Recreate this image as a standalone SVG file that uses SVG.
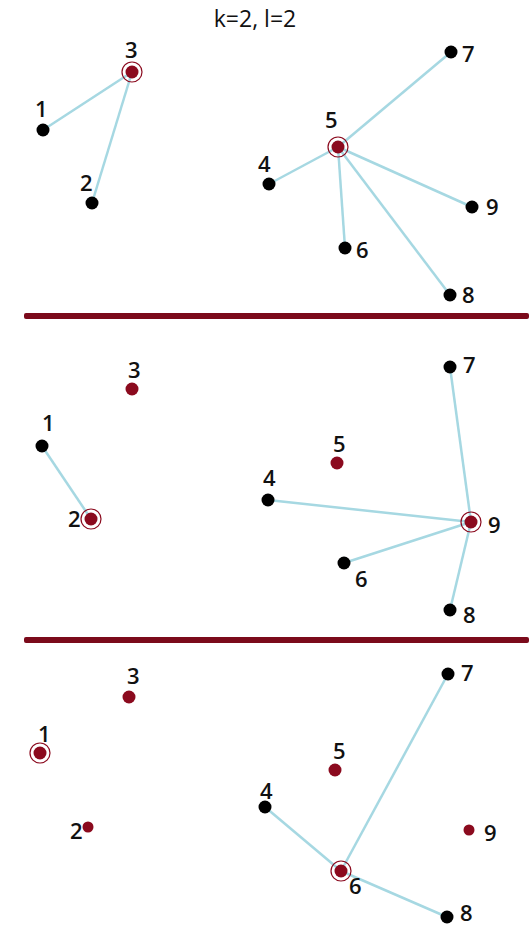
<svg xmlns="http://www.w3.org/2000/svg" width="529" height="928" viewBox="0 0 529 928">
<style>
text{font-family:"Open Sans","DejaVu Sans",sans-serif;font-size:22px;font-weight:600;fill:#111}
.t{font-size:23px;font-weight:normal;text-anchor:middle}
.e line{stroke:#a6d8e2;stroke-width:2.5}
.b{fill:#000}
.r{fill:#8b0a1e}
.ring{fill:none;stroke:#8b0a1e;stroke-width:1.2}
.bar{fill:#7b0a1b}
</style>
<rect width="529" height="928" fill="#fff"/>
<text class="t" x="255" y="27">k=2, l=2</text>
<rect class="bar" x="24" y="313" width="505" height="6" rx="2"/>
<rect class="bar" x="24" y="637" width="505" height="6" rx="2"/>
<g id="connectors" class="e">
<line x1="132" y1="72" x2="43" y2="130"/>
<line x1="132" y1="72" x2="92" y2="203"/>
<line x1="338" y1="147" x2="269" y2="184"/>
<line x1="338" y1="147" x2="451" y2="52"/>
<line x1="338" y1="147" x2="472" y2="207"/>
<line x1="338" y1="147" x2="345" y2="248"/>
<line x1="338" y1="147" x2="450" y2="295"/>
<line x1="42" y1="446" x2="91" y2="519"/>
<line x1="471" y1="522" x2="450" y2="367"/>
<line x1="471" y1="522" x2="268" y2="500"/>
<line x1="471" y1="522" x2="344" y2="563"/>
<line x1="471" y1="522" x2="450" y2="610"/>
<line x1="341" y1="871" x2="265" y2="807"/>
<line x1="341" y1="871" x2="448" y2="674"/>
<line x1="341" y1="871" x2="447" y2="917"/>
</g>
<g id="p1-n1"><circle class="b" cx="43" cy="130" r="6.5"/><text x="35" y="117">1</text></g>
<g id="p1-n2"><circle class="b" cx="92" cy="203" r="6.5"/><text x="80" y="191">2</text></g>
<g id="p1-n3"><circle class="ring" cx="132" cy="72" r="10"/><circle class="r" cx="132" cy="72" r="6.5"/><text x="125" y="58">3</text></g>
<g id="p1-n4"><circle class="b" cx="269" cy="184" r="6.5"/><text x="258" y="172">4</text></g>
<g id="p1-n5"><circle class="ring" cx="338" cy="147" r="10"/><circle class="r" cx="338" cy="147" r="6.5"/><text x="325" y="128">5</text></g>
<g id="p1-n6"><circle class="b" cx="345" cy="248" r="6.5"/><text x="356" y="258">6</text></g>
<g id="p1-n7"><circle class="b" cx="451" cy="52" r="6.5"/><text x="462" y="62">7</text></g>
<g id="p1-n8"><circle class="b" cx="450" cy="295" r="6.5"/><text x="462" y="303">8</text></g>
<g id="p1-n9"><circle class="b" cx="472" cy="207" r="6.5"/><text x="486" y="215">9</text></g>
<g id="p2-n1"><circle class="b" cx="42" cy="446" r="6.5"/><text x="42" y="431">1</text></g>
<g id="p2-n2"><circle class="ring" cx="91" cy="519" r="10"/><circle class="r" cx="91" cy="519" r="6.5"/><text x="68" y="527">2</text></g>
<g id="p2-n3"><circle class="r" cx="132" cy="389" r="6.5"/><text x="128" y="378">3</text></g>
<g id="p2-n4"><circle class="b" cx="268" cy="500" r="6.5"/><text x="263" y="486">4</text></g>
<g id="p2-n5"><circle class="r" cx="337" cy="463" r="6.5"/><text x="333" y="452">5</text></g>
<g id="p2-n6"><circle class="b" cx="344" cy="563" r="6.5"/><text x="355" y="587">6</text></g>
<g id="p2-n7"><circle class="b" cx="450" cy="367" r="6.5"/><text x="463" y="373">7</text></g>
<g id="p2-n8"><circle class="b" cx="450" cy="610" r="6.5"/><text x="463" y="623">8</text></g>
<g id="p2-n9"><circle class="ring" cx="471" cy="522" r="10"/><circle class="r" cx="471" cy="522" r="6.5"/><text x="488" y="533">9</text></g>
<g id="p3-n1"><circle class="ring" cx="40" cy="753" r="10"/><circle class="r" cx="40" cy="753" r="6.5"/><text x="38" y="742">1</text></g>
<g id="p3-n2"><circle class="r" cx="88" cy="827" r="5.5"/><text x="70" y="839">2</text></g>
<g id="p3-n3"><circle class="r" cx="129" cy="697" r="6.5"/><text x="127" y="684">3</text></g>
<g id="p3-n4"><circle class="b" cx="265" cy="807" r="6.5"/><text x="260" y="799">4</text></g>
<g id="p3-n5"><circle class="r" cx="335" cy="770" r="6.5"/><text x="333" y="759">5</text></g>
<g id="p3-n6"><circle class="ring" cx="341" cy="871" r="10"/><circle class="r" cx="341" cy="871" r="6.5"/><text x="349" y="894">6</text></g>
<g id="p3-n7"><circle class="b" cx="448" cy="674" r="6.5"/><text x="461" y="681">7</text></g>
<g id="p3-n8"><circle class="b" cx="447" cy="917" r="6.5"/><text x="460" y="921">8</text></g>
<g id="p3-n9"><circle class="r" cx="469" cy="830" r="5.5"/><text x="484" y="841">9</text></g>
</svg>
